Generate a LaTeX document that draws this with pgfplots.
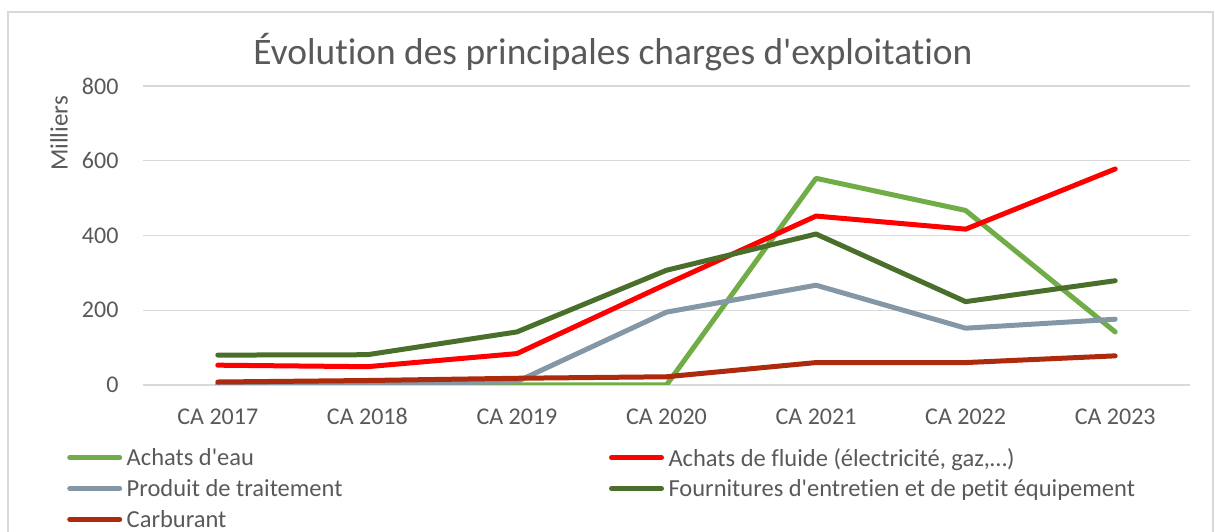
\documentclass[border=0pt]{standalone}
\usepackage{pgfplots}
\pgfplotsset{compat=1.18}
\usepackage{fontspec}
\setmainfont{Carlito}[Ligatures={NoCommon}]
\definecolor{cEau}{HTML}{70AD47}
\definecolor{cFluide}{HTML}{FF0000}
\definecolor{cTrait}{HTML}{8497A6}
\definecolor{cFourn}{HTML}{4A6F2B}
\definecolor{cCarb}{HTML}{AD2A0C}
\definecolor{txt}{HTML}{595959}
\definecolor{gridc}{HTML}{D9D9D9}
\newcommand{\q}{\textquotesingle}
\begin{document}
\begin{tikzpicture}[x=1pt,y=1pt]
\useasboundingbox (0,0) rectangle (1215,532);
\draw[gridc, line width=1.2pt] (8,520) rectangle (1213,-20);
\node[text=txt, font=\fontsize{37.4pt}{44pt}\selectfont] at (613,480) {Évolution des principales charges d\q exploitation};
\node[text=txt, rotate=90, font=\fontsize{25pt}{28pt}\selectfont] at (59,398.5) {Milliers};
\begin{axis}[
  at={(143pt,147pt)}, anchor=south west,
  scale only axis, width=1047pt, height=299pt,
  xmin=-0.5, xmax=6.5, ymin=0, ymax=800,
  xtick={0,...,6},
  xticklabels={CA 2017,CA 2018,CA 2019,CA 2020,CA 2021,CA 2022,CA 2023},
  ytick={0,200,400,600,800},
  axis line style={draw=none},
  major tick style={draw=none},
  ymajorgrids, xmajorgrids=false, grid style={gridc, line width=1.2pt},
  /pgf/number format/assume math mode=true,
  ticklabel style={text=txt, font=\fontsize{24pt}{28pt}\selectfont},
  yticklabel style={xshift=-21pt},
  xticklabel style={yshift=-20pt},
  every axis plot/.append style={line width=5pt, line cap=round, line join=round},
  legend columns=2,
  legend cell align=left,
  legend image code/.code={\draw[#1] (0pt,0pt) -- (50pt,0pt); \path (-0.5pt,0pt) (52.5pt,0pt);},
  legend style={at={(-0.0759,-0.197)}, anchor=north west, draw=none, fill=none,
    font=\fontsize{24.5pt}{28pt}\selectfont, text=txt,
    nodes={inner sep=2pt}, row sep=8pt,
    /tikz/every even column/.append style={column sep=264pt}},
]
\addplot[cEau] coordinates {(0,0) (1,0) (2,0) (3,0) (4,553) (5,467) (6,142)};
\addlegendentry{Achats d\q eau}
\addplot[cFluide] coordinates {(0,53) (1,49) (2,84) (3,270) (4,452) (5,417) (6,578)};
\addlegendentry{Achats de fluide (électricité, gaz,…)}
\addplot[cTrait] coordinates {(0,2) (1,3) (2,9) (3,195) (4,267) (5,152) (6,176)};
\addlegendentry{Produit de traitement}
\addplot[cFourn] coordinates {(0,80) (1,81) (2,142) (3,307) (4,404) (5,223) (6,279)};
\addlegendentry{Fournitures d\q entretien et de petit équipement}
\addplot[cCarb] coordinates {(0,8) (1,12) (2,18) (3,22) (4,60) (5,60) (6,78)};
\addlegendentry{Carburant}
\end{axis}
\end{tikzpicture}
\end{document}
